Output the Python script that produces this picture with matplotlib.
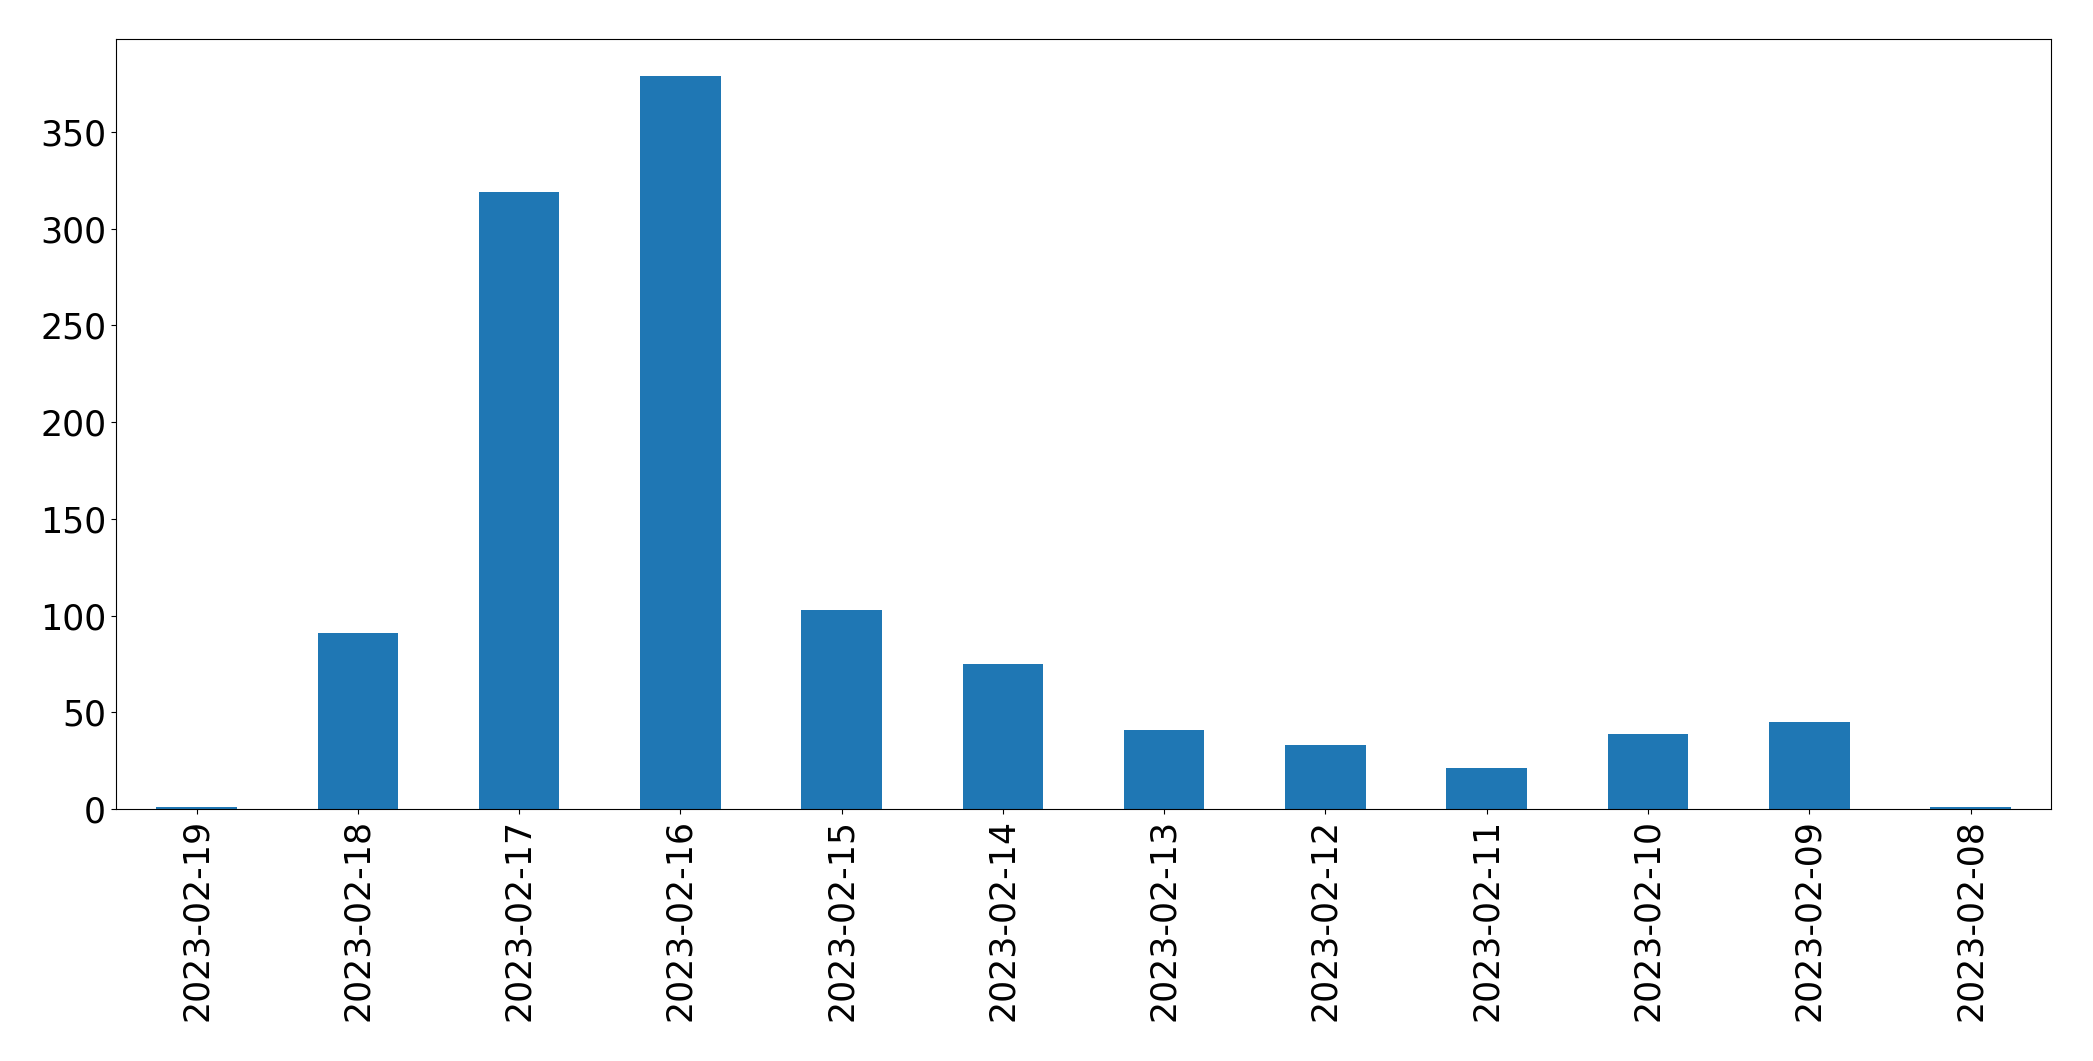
import matplotlib
matplotlib.use("Agg")
import matplotlib.pyplot as plt

dates = ["2023-02-19", "2023-02-18", "2023-02-17", "2023-02-16", "2023-02-15", "2023-02-14",
         "2023-02-13", "2023-02-12", "2023-02-11", "2023-02-10", "2023-02-09", "2023-02-08"]
counts = [1, 91, 319, 379, 103, 75, 41, 33, 21, 39, 45, 1]

fig = plt.figure(figsize=(20.93, 10.61), dpi=100)
ax = fig.add_axes([0.0554, 0.2375, 0.9246, 0.7255])

x = list(range(len(dates)))
ax.bar(x, counts, width=0.5, color="#1f77b4")
ax.set_xlim(-0.5, len(dates) - 0.5)
ax.set_xticks(x)
ax.set_xticklabels(dates, rotation=90)
ax.tick_params(axis="both", labelsize=25)

fig.savefig("out.png", dpi=100)
